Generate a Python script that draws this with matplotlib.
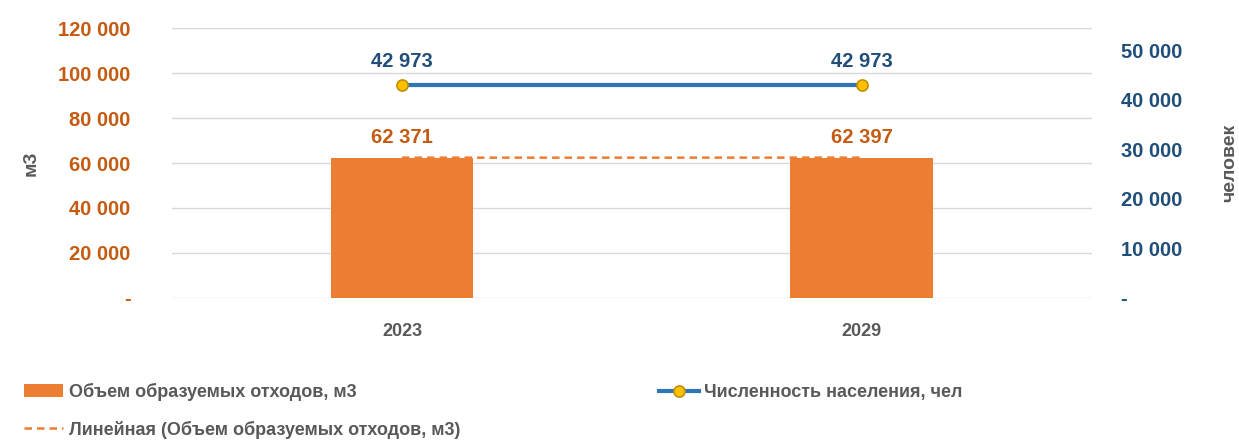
import matplotlib.pyplot as plt
from matplotlib.ticker import FuncFormatter

plt.rcParams['font.family'] = ['Liberation Sans Narrow', 'Liberation Sans', 'DejaVu Sans']
plt.rcParams['font.weight'] = 'bold'

years = ['2023', '2029']
waste = [62371, 62397]
population = [42973, 42973]

orange = '#ED7D31'
orange_txt = '#C55A11'
blue = '#2E75B6'
blue_txt = '#1F4E79'
gray_txt = '#595959'


def fmt(v, pos=None):
    if v == 0:
        return '-'
    return f'{int(v):,}'.replace(',', ' ')


fig = plt.figure(figsize=(12.39, 4.46), dpi=100)
ax = fig.add_axes([0.139, 0.332, 0.742, 0.605])
ax2 = ax.twinx()

x = range(len(years))
bars = ax.bar(x, waste, width=0.31, color=orange, zorder=2,
              label='Объем образуемых отходов, м3')
trend, = ax.plot(x, waste, ls=(0, (3, 2)), color=orange, lw=1.8, zorder=3,
                 label='Линейная (Объем образуемых отходов, м3)')
line, = ax2.plot(x, population, color=blue, lw=3, marker='o', ms=8,
                 mfc='#FFC000', mec='#BF9000', mew=1.2, zorder=4,
                 label='Численность населения, чел')

ax.set_xlim(-0.5, 1.5)
ax.set_ylim(0, 120000)
ax.set_yticks(range(0, 120001, 20000))
ax.yaxis.set_major_formatter(FuncFormatter(fmt))
ax2.set_ylim(0, 54500)
ax2.set_yticks(range(0, 50001, 10000))
ax2.yaxis.set_major_formatter(FuncFormatter(fmt))

ax.set_xticks(list(x))
ax.set_xticklabels(years)
ax.grid(axis='y', color='#D9D9D9', lw=1, zorder=0)
ax.set_axisbelow(True)
for a in (ax, ax2):
    for s in a.spines.values():
        s.set_visible(False)
ax.tick_params(axis='y', length=0, labelsize=14.5, labelcolor=orange_txt, pad=30)
ax2.tick_params(axis='y', length=0, labelsize=14.5, labelcolor=blue_txt, pad=21)
ax.tick_params(axis='x', length=0, labelsize=13, labelcolor=gray_txt, pad=18)

ax.set_ylabel('м3', fontsize=14, color=gray_txt, fontweight='bold', labelpad=13)
ax2.set_ylabel('человек', fontsize=14, color=gray_txt, fontweight='bold',
               rotation=90, labelpad=28)

for i, v in enumerate(waste):
    ax.annotate(fmt(v), (i, v), xytext=(0, 8), textcoords='offset points',
                ha='center', va='bottom', fontsize=14.5, color=orange_txt)
for i, v in enumerate(population):
    ax2.annotate(fmt(v), (i, v), xytext=(0, 10), textcoords='offset points',
                 ha='center', va='bottom', fontsize=14.5, color=blue_txt)

fig.legend(handles=[bars, trend, line], ncol=2, loc='upper left',
           bbox_to_anchor=(0.006, 0.178), frameon=False, fontsize=13,
           labelcolor=gray_txt, handlelength=2.2, handletextpad=0.3,
           columnspacing=11, labelspacing=1.1)

fig.savefig('out.png', dpi=100)
